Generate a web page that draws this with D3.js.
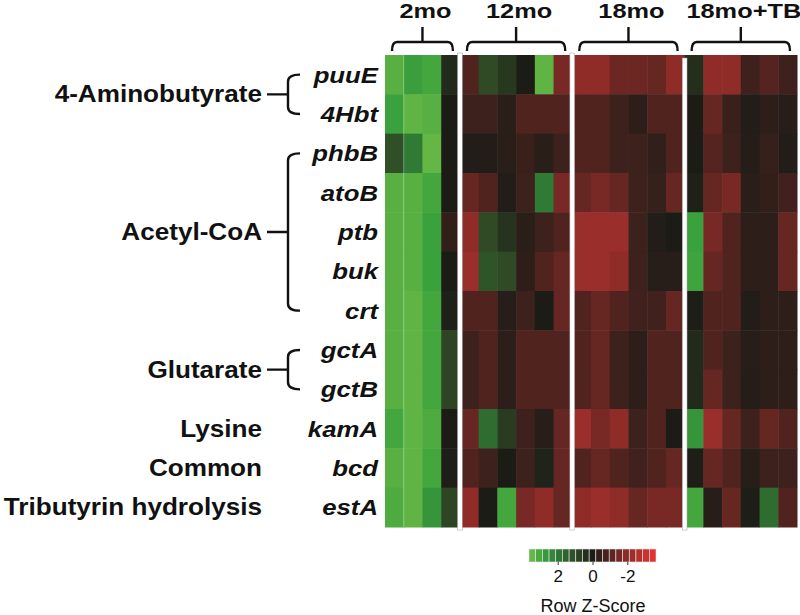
<!DOCTYPE html>
<html>
<head>
<meta charset="utf-8">
<script src="https://cdn.jsdelivr.net/npm/d3@7"></script>
<style>
  body { margin: 0; background: #fff; }
  text { font-family: "Liberation Sans", Arial, sans-serif; fill: #111; }
</style>
</head>
<body>
<svg width="800" height="615"></svg>
<script>
// genes (rows) and their pathway groups
var genes = ["puuE", "4Hbt", "phbB", "atoB", "ptb", "buk", "crt", "gctA", "gctB", "kamA", "bcd", "estA"];
var pathways = ["4-Aminobutyrate", "Acetyl-CoA", "Glutarate", "Lysine", "Common", "Tributyrin hydrolysis"];
var pathwayFirst = [0, 2, 7, 9, 10, 11];
var pathwayLast = [1, 6, 8, 9, 10, 11];

// sample groups (columns)
var groups = ["2mo", "12mo", "18mo", "18mo+TB"];
var groupSizes = [4, 6, 6, 6];

// row z-scores, one array per gene, columns in group order
var zPuuE = [3.2, 2.8, 3.0, 0.3, -0.9, 1.0, 0.6, 0, 3.3, -1.6, -2.0, -2.0, -1.4, -1.4, -1.3, -2.0, 0.4, -2.0, -2.0, -0.6, -1.0, -0.6];
var z4Hbt = [2.9, 3.3, 3.2, 0, -0.55, -0.55, -0.25, -0.9, -0.9, -0.9, -0.9, -0.9, -0.55, -0.3, -0.9, -0.9, 0, -1.3, -0.5, -0.1, -0.3, -0.2];
var zPhbB = [1.1, 2.0, 3.4, 0, -0.1, -0.1, -0.25, -0.5, -0.25, -0.55, -0.9, -0.9, -0.55, -0.55, -0.35, -0.9, 0, -1.0, -0.55, -0.15, -0.45, -0.1];
var zAtoB = [3.2, 3.2, 3.0, 0, -1.3, -0.9, -0.1, -0.55, 2.0, -1.6, -1.3, -1.6, -1.3, -0.55, -0.45, -1.3, 0.1, -1.3, -1.6, -0.25, -0.4, -0.65];
var zPtb = [3.2, 3.2, 2.9, -0.4, -2.0, 1.0, 0.5, -0.25, -0.55, -0.9, -2.2, -2.2, -2.2, -0.55, -0.1, 0, 2.9, -1.6, -0.9, -0.3, -0.3, -1.3];
var zBuk = [3.2, 3.2, 2.9, 0, -2.2, 1.2, 1.0, -0.3, -0.9, -1.3, -2.2, -2.2, -2.0, -0.55, -0.2, -0.2, 2.95, -1.3, -0.9, -0.3, -0.3, -1.3];
var zCrt = [3.2, 3.3, 3.0, 0.1, -0.9, -0.9, -0.2, -0.55, 0, -1.3, -0.9, -1.3, -0.9, -0.65, -0.65, -1.3, 0.05, -0.9, -0.9, -0.1, -0.3, -0.3];
var zGctA = [3.2, 3.3, 3.0, 0.9, -0.55, -0.9, -0.3, -0.9, -0.9, -0.9, -0.9, -1.3, -0.55, -0.3, -0.9, -0.9, 0.3, -0.9, -0.55, -0.2, -0.3, -0.3];
var zGctB = [3.2, 3.3, 3.0, 0.9, -0.55, -0.9, -0.3, -0.9, -0.9, -0.9, -0.9, -1.3, -0.55, -0.3, -0.9, -0.9, 0.3, -1.3, -0.55, -0.15, -0.3, -0.3];
var zKamA = [3.0, 3.3, 3.1, 0, -1.3, 1.7, 0.7, -0.55, -0.2, -1.3, -2.2, -1.6, -2.0, -0.55, -0.9, 0, 2.6, -2.2, -1.3, -0.55, -1.3, -0.9];
var zBcd = [3.2, 3.3, 3.0, 0.05, -0.9, -0.55, 0, -0.55, 0.15, -1.3, -0.9, -1.3, -0.9, -0.65, -0.9, -1.3, 0.05, -1.3, -0.9, -0.2, -0.55, -0.55];
var zEstA = [3.1, 3.3, 2.6, 0.9, -2.0, 0, 3.0, -1.6, -2.0, -1.3, -2.0, -2.2, -2.0, -1.3, -1.6, -1.6, 3.0, -0.2, -1.3, 0.05, 1.7, -0.9];
var zRows = [zPuuE, z4Hbt, zPhbB, zAtoB, zPtb, zBuk, zCrt, zGctA, zGctB, zKamA, zBcd, zEstA];

// color key
var keyTicks = [2, 0, -2];
var keyMin = -3.65, keyMax = 3.65, keySteps = 19;

var svg = d3.select("svg");

// sample ids built from the groups
var samples = [], sampleGroup = [];
groups.forEach(function (g, gi) {
  for (var k = 0; k < groupSizes[gi]; k++) { samples.push(g + "_" + (k + 1)); sampleGroup.push(gi); }
});

var x = d3.scaleBand().domain(samples).range([385, 797]);
var y = d3.scaleBand().domain(genes).range([55, 527]);

var color = d3.scaleLinear()
  .domain([-3.65, -2.2, 0, 1.0, 2.0, 2.9, 3.3, 3.65])
  .range(["#ee3434", "#9a2e2a", "#1c1c17", "#2f4a25", "#2f7a35", "#3aa23c", "#60b443", "#6ec04a"])
  .clamp(true);

// stretched text helper (the figure's lettering is wide)
function label(sel, txt, tx, ty, size, sx, anchor, weight, style) {
  sel.append("text")
    .attr("transform", "translate(" + tx + "," + ty + ") scale(" + sx + ",1)")
    .attr("text-anchor", anchor)
    .attr("font-size", size)
    .attr("font-weight", weight)
    .attr("font-style", style || "normal")
    .text(txt);
}

// cells
var cells = [];
zRows.forEach(function (row, r) {
  row.forEach(function (v, c) { cells.push({ gene: genes[r], sample: samples[c], z: v }); });
});

svg.append("g").selectAll("rect")
  .data(cells)
  .enter()
  .append("rect")
  .attr("x", function (d) { return x(d.sample); })
  .attr("y", function (d) { return y(d.gene); })
  .attr("width", x.bandwidth() + 0.5)
  .attr("height", y.bandwidth() + 0.5)
  .attr("fill", function (d) { return color(d.z); });

// faint line between first two 2mo columns
svg.append("line")
  .attr("x1", x(samples[1])).attr("x2", x(samples[1]))
  .attr("y1", 55).attr("y2", 527)
  .attr("stroke", "#fff").attr("stroke-opacity", 0.35).attr("stroke-width", 1);

// white separators between groups
var groupStart = [], groupEnd = [];
groups.forEach(function (g, gi) {
  var cols = samples.filter(function (s, i) { return sampleGroup[i] === gi; });
  groupStart.push(x(cols[0]));
  groupEnd.push(x(cols[cols.length - 1]) + x.bandwidth());
});

svg.append("g").selectAll("rect")
  .data(groupStart.slice(1))
  .enter()
  .append("rect")
  .attr("x", function (d) { return d - 2.4; })
  .attr("y", function (d, i) { return i === 2 ? 58 : 53; })
  .attr("width", 4.8)
  .attr("height", function (d, i) { return i === 2 ? 472 : 477; })
  .attr("fill", "#fff")
  .attr("stroke", "#9a9a9a")
  .attr("stroke-width", 0.5);

// column group braces and labels
var topG = svg.append("g");
groups.forEach(function (g, gi) {
  var x0 = groupStart[gi] + 7, x1 = groupEnd[gi] - 7, xm = (groupStart[gi] + groupEnd[gi]) / 2, yb = 42;
  topG.append("path")
    .attr("d", "M" + x0 + "," + (yb + 9) + " Q" + x0 + "," + yb + " " + (x0 + 5) + "," + yb +
      " L" + (x1 - 5) + "," + yb + " Q" + x1 + "," + yb + " " + x1 + "," + (yb + 9) +
      " M" + xm + "," + yb + " L" + xm + "," + (yb - 15))
    .attr("fill", "none").attr("stroke", "#111").attr("stroke-width", 2.4);
  label(topG, g, xm + 3, 18, 19.5, 1.3, "middle", "bold");
});

// gene labels
var leftG = svg.append("g");
genes.forEach(function (gname) {
  label(leftG, gname, 378, y(gname) + y.bandwidth() / 2 + 8, 23, 1.12, "end", "bold", "italic");
});

// pathway labels and braces
pathways.forEach(function (p, i) {
  var ya = y(genes[pathwayFirst[i]]) + y.bandwidth() / 2;
  var yz = y(genes[pathwayLast[i]]) + y.bandwidth() / 2;
  var ym = (ya + yz) / 2;
  label(leftG, p, 262, ym + 8, 23, 1.135, "end", "bold");
  if (pathwayLast[i] > pathwayFirst[i]) {
    var bx = 288, hw = 12;
    leftG.append("path")
      .attr("d", "M" + (bx + hw) + "," + ya + " Q" + bx + "," + ya + " " + bx + "," + (ya + 7) +
        " L" + bx + "," + (yz - 7) + " Q" + bx + "," + yz + " " + (bx + hw) + "," + yz +
        " M" + bx + "," + ym + " L" + 267 + "," + ym)
      .attr("fill", "none").attr("stroke", "#111").attr("stroke-width", 2.4);
  }
});

// color key
var keyX = d3.scaleLinear().domain([keyMax, keyMin]).range([529, 656]);
var keyStep = (keyMax - keyMin) / keySteps;
var keyBins = d3.range(keySteps).map(function (i) { return keyMax - i * keyStep; });
var key = svg.append("g");
key.selectAll("rect")
  .data(keyBins)
  .enter()
  .append("rect")
  .attr("x", function (d) { return keyX(d); })
  .attr("y", 549)
  .attr("width", keyX(keyMax - keyStep) - keyX(keyMax))
  .attr("height", 13)
  .attr("fill", function (d) { return color(d - keyStep / 2); })
  .attr("stroke", "#e8e8e8")
  .attr("stroke-width", 0.6);

var keyAxis = key.append("g")
  .attr("transform", "translate(0,562)")
  .call(d3.axisBottom(keyX).tickValues(keyTicks).tickSize(3).tickFormat(function (d) { return String(d); }));
keyAxis.select(".domain").remove();
keyAxis.selectAll("line").attr("stroke", "#333");
keyAxis.selectAll("text")
  .attr("font-size", 17)
  .attr("font-family", "Liberation Sans, Arial, sans-serif")
  .attr("fill", "#1a1a1a")
  .attr("y", 8)
  .attr("dy", "0.71em");

key.append("text")
  .attr("x", 593).attr("y", 612)
  .attr("text-anchor", "middle")
  .attr("font-size", 18)
  .attr("fill", "#333")
  .text("Row Z-Score");
</script>
</body>
</html>
